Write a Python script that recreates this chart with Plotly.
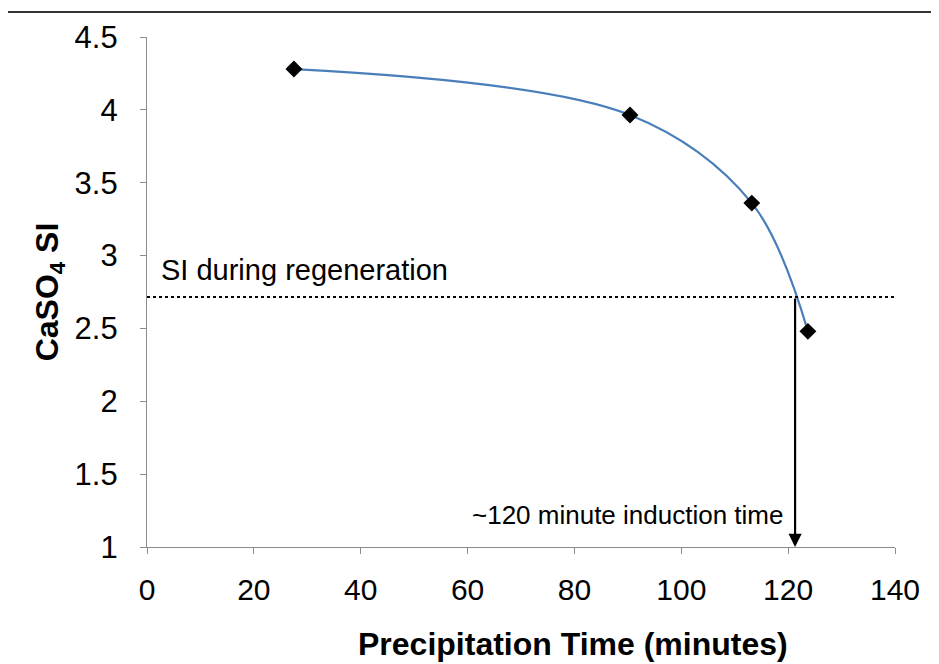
import plotly.graph_objects as go

time_min = [27.5, 90.4, 113.2, 123.7]
caso4_si = [4.28, 3.965, 3.36, 2.48]
si_regen = 2.716
induction_time = 121.3
x_ticks = [0, 20, 40, 60, 80, 100, 120, 140]
y_ticks = [1, 1.5, 2, 2.5, 3, 3.5, 4, 4.5]

FONT = "Liberation Sans, Arial, sans-serif"

fig = go.Figure()
fig.add_trace(go.Scatter(
    x=time_min, y=caso4_si, mode="lines",
    line=dict(color="#4a7ebb", width=2.2, shape="spline", smoothing=1.0),
    hoverinfo="skip", showlegend=False))
fig.add_trace(go.Scatter(
    x=time_min, y=caso4_si, mode="markers",
    marker=dict(symbol="diamond", size=13, color="black"),
    showlegend=False))

# dotted SI line
fig.add_shape(type="line", xref="x", yref="y", x0=0, x1=140, y0=si_regen, y1=si_regen,
              line=dict(color="black", width=2, dash="dot"))
# arrow for induction time
fig.add_annotation(x=induction_time, y=1.0, ax=induction_time, ay=si_regen,
                   xref="x", yref="y", axref="x", ayref="y", text="",
                   showarrow=True, arrowhead=2, arrowsize=1.2, arrowwidth=2.2, arrowcolor="black")
fig.add_annotation(x=2.2, y=si_regen + 0.06, xref="x", yref="y", text="SI during regeneration",
                   showarrow=False, xanchor="left", yanchor="bottom",
                   font=dict(family=FONT, size=29, color="black"))
fig.add_annotation(x=119.5, y=1.1, xref="x", yref="y", text="~120 minute induction time",
                   showarrow=False, xanchor="right", yanchor="bottom",
                   font=dict(family=FONT, size=26, color="black"))
# x axis title (offset to the right as in the original)
fig.add_annotation(x=0.5695, y=-0.191, xref="paper", yref="paper",
                   text="<b>Precipitation Time (minutes)</b>", showarrow=False,
                   xanchor="center", yanchor="middle",
                   font=dict(family=FONT, size=32, color="black"))
# top border line of the page
fig.add_shape(type="line", xref="paper", yref="paper", x0=-0.3, x1=1.2, y0=1.049, y1=1.049,
              line=dict(color="#333333", width=2))

fig.update_xaxes(range=[0, 140], tickvals=x_ticks, showgrid=False, zeroline=False,
                 showline=True, linecolor="#8c8c8c", linewidth=1.2,
                 ticks="outside", ticklen=6, tickcolor="#8c8c8c",
                 ticklabelstandoff=10,
                 tickfont=dict(family=FONT, size=30, color="black"))
fig.update_yaxes(range=[1, 4.5], tickvals=y_ticks, ticktext=[str(v) for v in y_ticks],
                 showgrid=False, zeroline=False,
                 showline=True, linecolor="#8c8c8c", linewidth=1.2,
                 ticks="outside", ticklen=6, tickcolor="#8c8c8c",
                 ticklabelstandoff=16,
                 tickfont=dict(family=FONT, size=31, color="black"),
                 title=dict(text="<b>CaSO<sub>4</sub> SI</b>", standoff=6,
                            font=dict(family=FONT, size=32, color="black")))

fig.update_layout(width=939, height=664, plot_bgcolor="white", paper_bgcolor="white",
                  margin=dict(l=139, r=52, t=27, b=125), showlegend=False)

fig.write_html("out.html")
